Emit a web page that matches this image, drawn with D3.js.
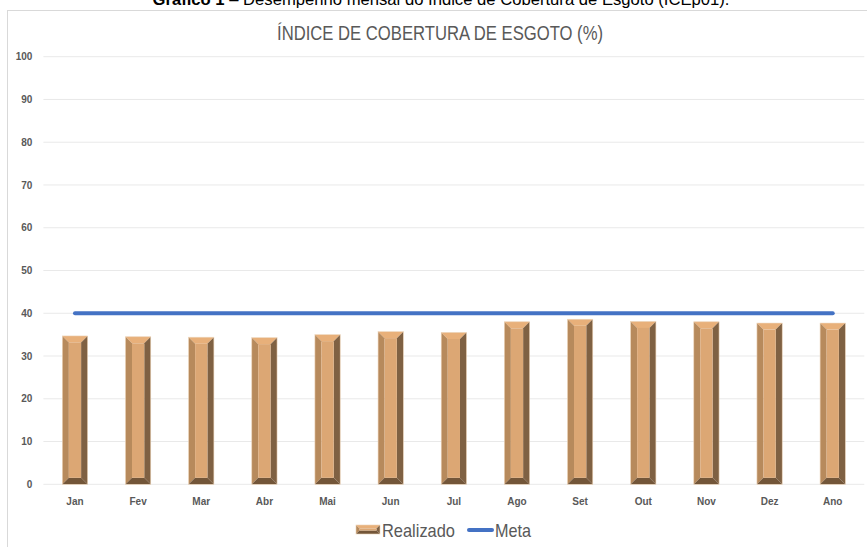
<!DOCTYPE html>
<html>
<head>
<meta charset="utf-8">
<script src="https://cdnjs.cloudflare.com/ajax/libs/d3/7.8.5/d3.min.js"></script>
<style>
  body { margin: 0; background: #fff; }
  svg { display: block; }
  .narrow { font-family: "Liberation Sans", Arial, sans-serif; }
  .tick-label { font-family: "Liberation Sans", Arial, sans-serif; font-weight: bold; font-size: 10px; fill: #595959; }
</style>
</head>
<body>
<svg id="chart"></svg>
<script>
// chart data
var months = ["Jan", "Fev", "Mar", "Abr", "Mai", "Jun", "Jul", "Ago", "Set", "Out", "Nov", "Dez", "Ano"];
var realizado = [34.7, 34.5, 34.4, 34.3, 35.0, 35.7, 35.5, 38.0, 38.6, 38.1, 38.0, 37.7, 37.7];
var meta = [40, 40, 40, 40, 40, 40, 40, 40, 40, 40, 40, 40, 40];
var yTicks = [0, 10, 20, 30, 40, 50, 60, 70, 80, 90, 100];

var W = 867, H = 547;
var margin = { top: 56.7, bottom: H - 484.3, left: 43.4, right: W - 864.3 };

var svg = d3.select("#chart").attr("width", W).attr("height", H);

// document caption (cut at the top of the picture, as in the source)
var cap = svg.append("text")
  .attr("x", 441).attr("y", 4.5)
  .attr("text-anchor", "middle")
  .attr("textLength", 577)
  .attr("lengthAdjust", "spacingAndGlyphs")
  .style("font-family", "'Liberation Sans', Arial, sans-serif")
  .style("font-size", "16px")
  .style("fill", "#000");
cap.append("tspan").style("font-weight", "bold").text("Gráfico 1");
cap.append("tspan").text(" – Desempenho mensal do Índice de Cobertura de Esgoto (ICEp01).");

// chart frame
svg.append("rect")
  .attr("x", 7.5).attr("y", 10.5)
  .attr("width", W + 10).attr("height", H + 10)
  .attr("fill", "none")
  .attr("stroke", "#d9d9d9")
  .attr("stroke-width", 1);

// title (condensed like the original)
svg.append("text")
  .attr("class", "narrow")
  .attr("x", 277).attr("y", 40)
  .attr("textLength", 326)
  .attr("lengthAdjust", "spacingAndGlyphs")
  .style("font-size", "21px")
  .style("fill", "#595959")
  .text("ÍNDICE DE COBERTURA DE ESGOTO (%)");

// scales
var x = d3.scaleBand()
  .domain(months)
  .range([margin.left, W - margin.right])
  .paddingInner(0.6)
  .paddingOuter(0.3);

var y = d3.scaleLinear()
  .domain([0, 100])
  .range([H - margin.bottom, margin.top]);

// gridlines
svg.append("g").selectAll("line")
  .data(yTicks)
  .join("line")
  .attr("x1", margin.left).attr("x2", W - margin.right)
  .attr("y1", function(d) { return y(d); })
  .attr("y2", function(d) { return y(d); })
  .attr("stroke", "#e9e9e9")
  .attr("stroke-width", 1);

// y axis labels
var yaxis = d3.axisLeft(y).tickValues(yTicks).tickSize(0).tickPadding(11);
svg.append("g")
  .attr("transform", "translate(" + margin.left + ",0)")
  .call(yaxis)
  .call(function(g) { g.select(".domain").remove(); })
  .selectAll("text")
  .attr("class", "tick-label");

// x axis labels
var xaxis = d3.axisBottom(x).tickSize(0).tickPadding(14);
svg.append("g")
  .attr("transform", "translate(0," + y(0) + ")")
  .call(xaxis)
  .call(function(g) { g.select(".domain").remove(); })
  .selectAll("text")
  .attr("class", "tick-label");

// beveled bar drawing
var faces = { top: "#e8b07a", left: "#b78a5c", right: "#7f6143", bottom: "#735639", front: "#dca774" };

function bevelBar(g, x0, y0, w, h, b) {
  var x1 = x0 + w, y1 = y0 + h;
  var pts = function(a) { return a.map(function(p) { return p.join(","); }).join(" "); };
  g.append("polygon").attr("points", pts([[x0, y0], [x1, y0], [x1 - b, y0 + b], [x0 + b, y0 + b]])).attr("fill", faces.top);
  g.append("polygon").attr("points", pts([[x0, y0], [x0 + b, y0 + b], [x0 + b, y1 - b], [x0, y1]])).attr("fill", faces.left);
  g.append("polygon").attr("points", pts([[x1, y0], [x1, y1], [x1 - b, y1 - b], [x1 - b, y0 + b]])).attr("fill", faces.right);
  g.append("polygon").attr("points", pts([[x0, y1], [x0 + b, y1 - b], [x1 - b, y1 - b], [x1, y1]])).attr("fill", faces.bottom);
  g.append("rect").attr("x", x0 + b).attr("y", y0 + b).attr("width", w - 2 * b).attr("height", h - 2 * b).attr("fill", faces.front);
  g.append("rect").attr("x", x0).attr("y", y0).attr("width", w).attr("height", h)
    .attr("fill", "none").attr("stroke", "#ecd2b6").attr("stroke-width", 0.6);
}

var bars = svg.append("g");
realizado.forEach(function(v, i) {
  var g = bars.append("g");
  bevelBar(g, x(months[i]), y(v), x.bandwidth(), y(0) - y(v), 6.5);
});

// meta line
var line = d3.line()
  .x(function(d, i) { return x(months[i]) + x.bandwidth() / 2; })
  .y(function(d) { return y(d); });

svg.append("path")
  .datum(meta)
  .attr("d", line)
  .attr("fill", "none")
  .attr("stroke", "#4472c4")
  .attr("stroke-width", 4)
  .attr("stroke-linecap", "round");

// legend
var legend = svg.append("g");
bevelBar(legend.append("g"), 356, 525, 24, 9, 3.5);
legend.append("text")
  .attr("class", "narrow")
  .attr("x", 382).attr("y", 537)
  .attr("textLength", 73)
  .attr("lengthAdjust", "spacingAndGlyphs")
  .style("font-size", "19px")
  .style("fill", "#595959")
  .text("Realizado");
legend.append("line")
  .attr("x1", 469).attr("x2", 492)
  .attr("y1", 530).attr("y2", 530)
  .attr("stroke", "#4472c4")
  .attr("stroke-width", 4)
  .attr("stroke-linecap", "round");
legend.append("text")
  .attr("class", "narrow")
  .attr("x", 495).attr("y", 537)
  .attr("textLength", 36)
  .attr("lengthAdjust", "spacingAndGlyphs")
  .style("font-size", "19px")
  .style("fill", "#595959")
  .text("Meta");
</script>
</body>
</html>
